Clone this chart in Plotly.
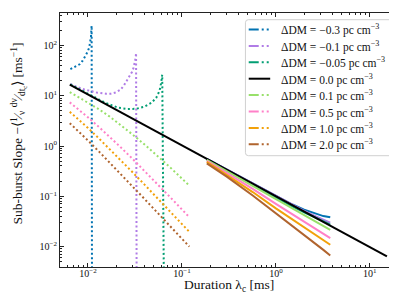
import plotly.graph_objects as go

# ---------------- data ----------------
labels = ["ΔDM = −0.3 pc cm<sup>−3</sup>", "ΔDM = −0.1 pc cm<sup>−3</sup>",
          "ΔDM = −0.05 pc cm<sup>−3</sup>", "ΔDM = 0.0 pc cm<sup>−3</sup>",
          "ΔDM = 0.1 pc cm<sup>−3</sup>", "ΔDM = 0.5 pc cm<sup>−3</sup>",
          "ΔDM = 1.0 pc cm<sup>−3</sup>", "ΔDM = 2.0 pc cm<sup>−3</sup>"]
colors = ["#0173B2", "#B07CE6", "#029E73", "#000000",
          "#98E06A", "#FF80C8", "#F2A10A", "#B0642E"]

# ΔDM = 0 reference line
black_x = [0.0064, 0.1, 1.0, 15.2]
black_y = [16.7, 1.027, 0.0993, 0.0063]

# short-duration (dotted) curves
blue_dx = [0.0065, 0.0074, 0.00816, 0.00879, 0.00936, 0.00993, 0.01033, 0.01057, 0.01076, 0.01086, 0.01094, 0.0111]
blue_dy = [34.0, 38.7, 42.4, 50.0, 60.0, 75.7, 92.5, 116.0, 148.0, 200.0, 249.0, 1e-6]
purple_dx = [0.0065, 0.0076, 0.009, 0.0107, 0.0126, 0.0155, 0.0175, 0.0198, 0.0222, 0.0241, 0.0258,
             0.0277, 0.0294, 0.0306, 0.0316, 0.0322, 0.0325, 0.0333]
purple_dy = [17.2, 15.0, 13.5, 12.5, 11.5, 11.0, 11.0, 11.7, 13.2, 16.0, 19.5,
             24.0, 29.8, 36.3, 47.0, 57.0, 71.0, 1e-6]
teal_dx = [0.0065, 0.008, 0.01, 0.012, 0.0133, 0.015, 0.018, 0.0209, 0.0266, 0.0326, 0.0398,
           0.0471, 0.0532, 0.0578, 0.0601, 0.0617, 0.0664]
teal_dy = [16.8, 13.6, 10.9, 9.1, 8.2, 7.4, 6.45, 5.8, 5.45, 5.5, 6.07,
           7.2, 9.04, 12.6, 18.0, 26.3, 1e-6]
pos_dx = [0.0064, 0.008, 0.01, 0.013, 0.017, 0.022, 0.03, 0.04, 0.055, 0.075, 0.1, 0.12]
lime_dy = [11.8, 9.3, 7.4, 5.45, 3.86, 2.67, 1.68, 1.07, 0.636, 0.374, 0.225, 0.162]
pink_dy = [7.4, 5.3, 3.72, 2.42, 1.53, 0.967, 0.548, 0.32, 0.174, 0.0956, 0.0545, 0.0381]
orange_dy = [4.8, 3.35, 2.28, 1.43, 0.873, 0.537, 0.297, 0.17, 0.0913, 0.0495, 0.028, 0.0195]
brown_dy = [2.85, 1.95, 1.29, 0.787, 0.470, 0.285, 0.155, 0.088, 0.0468, 0.0252, 0.0142, 0.0099]

# long-duration (solid) curves
sol_x = [0.184, 0.3, 0.567, 1.0, 1.5, 2.0, 2.7, 3.2, 3.79]
blue_s = [0.5534, 0.3373, 0.1766, 0.0993, 0.0683, 0.0539, 0.0440, 0.0402, 0.0380]
purple_s = [0.5534, 0.3373, 0.1766, 0.0993, 0.0668, 0.0510, 0.0390, 0.0341, 0.0298]
teal_s = [0.541, 0.327, 0.169, 0.094, 0.0629, 0.0479, 0.0363, 0.0314, 0.0272]
lime_s = [0.529, 0.315, 0.160, 0.0865, 0.0566, 0.0417, 0.0305, 0.0255, 0.0214]
pink_s = [0.505, 0.290, 0.140, 0.0704, 0.0440, 0.0311, 0.0219, 0.01785, 0.0146]
orange_s = [0.482, 0.268, 0.121, 0.0573, 0.0347, 0.0242, 0.0166, 0.01336, 0.0108]
brown_s = [0.450, 0.245, 0.103, 0.0455, 0.0263, 0.0171, 0.0110, 0.00852, 0.0066]

x_tickvals = [0.01, 0.1, 1, 10]
x_ticktext = ["10<sup>−2</sup>", "10<sup>−1</sup>", "10<sup>0</sup>", "10<sup>1</sup>"]
y_tickvals = [0.01, 0.1, 1, 10, 100]
y_ticktext = ["10<sup>−2</sup>", "10<sup>−1</sup>", "10<sup>0</sup>", "10<sup>1</sup>", "10<sup>2</sup>"]
x_title = "Duration λ<sub>c</sub> [ms]"
y_title = "Sub-burst Slope −⟨<sup>1</sup>⁄<sub>ν</sub> <sup>dν</sup>⁄<sub>dt<sub>c</sub></sub>⟩ [ms<sup>−1</sup>]"

# ---------------- figure ----------------
FONT = "Liberation Serif, Times New Roman, serif"
W, H = 397, 296
L, R, T, B = 52, 390.5, 5, 259

fig = go.Figure()
dot = "2px,2.5px"

dotted = [(blue_dx, blue_dy, 0), (purple_dx, purple_dy, 1), (teal_dx, teal_dy, 2),
          (pos_dx, lime_dy, 4), (pos_dx, pink_dy, 5), (pos_dx, orange_dy, 6), (pos_dx, brown_dy, 7)]
solid = {0: blue_s, 1: purple_s, 2: teal_s, 4: lime_s, 5: pink_s, 6: orange_s, 7: brown_s}
dmap = {d[2]: d for d in dotted}

for i in range(8):
    if i == 3:
        fig.add_trace(go.Scatter(x=black_x, y=black_y, mode="lines",
                                 line=dict(color=colors[i], width=2), showlegend=False,
                                 hoverinfo="skip"))
        continue
    dx, dy, _ = dmap[i]
    fig.add_trace(go.Scatter(x=dx, y=dy, mode="lines",
                             line=dict(color=colors[i], width=2, dash=dot),
                             showlegend=False, hoverinfo="skip"))
    fig.add_trace(go.Scatter(x=sol_x, y=solid[i], mode="lines",
                             line=dict(color=colors[i], width=2),
                             showlegend=False, hoverinfo="skip"))

minor_x = [m * 10 ** e for e in range(-3, 2) for m in range(2, 10)]
minor_y = [m * 10 ** e for e in range(-3, 3) for m in range(2, 10)]

axis_common = dict(type="log", showgrid=False, zeroline=False, showline=True,
                   linecolor="#222", linewidth=1, mirror="allticks",
                   ticks="inside", ticklen=4, tickwidth=0.8, tickcolor="#222",
                   tickfont=dict(family=FONT, size=10, color="#111"))

fig.update_xaxes(**axis_common, range=[-2.2976, 1.2997],
                 tickvals=x_tickvals, ticktext=x_ticktext, ticklabelstandoff=-3,
                 minor=dict(tickvals=minor_x, ticks="inside", ticklen=2, tickwidth=0.6, tickcolor="#222"))
fig.update_yaxes(**axis_common, range=[-2.41, 2.649],
                 tickvals=y_tickvals, ticktext=y_ticktext,
                 minor=dict(tickvals=minor_y, ticks="inside", ticklen=2, tickwidth=0.6, tickcolor="#222"))

# ---------------- custom legend / titles (layout decoration) ----------------
def px_x(p):
    return (p - L) / (R - L)

def px_y(p):
    return (B - p) / (B - T)

bx0, bx1, by0, by1, rr = 237.7, 385.0, 11.7, 147.7, 3.0
path = (f"M {px_x(bx0 + rr)},{px_y(by0)} L {px_x(bx1 - rr)},{px_y(by0)} "
        f"Q {px_x(bx1)},{px_y(by0)} {px_x(bx1)},{px_y(by0 + rr)} "
        f"L {px_x(bx1)},{px_y(by1 - rr)} Q {px_x(bx1)},{px_y(by1)} {px_x(bx1 - rr)},{px_y(by1)} "
        f"L {px_x(bx0 + rr)},{px_y(by1)} Q {px_x(bx0)},{px_y(by1)} {px_x(bx0)},{px_y(by1 - rr)} "
        f"L {px_x(bx0)},{px_y(by0 + rr)} Q {px_x(bx0)},{px_y(by0)} {px_x(bx0 + rr)},{px_y(by0)} Z")
shapes = [dict(type="path", xref="paper", yref="paper", path=path,
               line=dict(color="#d0d0d0", width=1), fillcolor="rgba(255,255,255,0.85)", layer="above")]
annotations = []
for i in range(8):
    yc = 21.5 + 16.4 * i
    shapes.append(dict(type="line", xref="paper", yref="paper",
                       x0=px_x(241), x1=px_x(262.5), y0=px_y(yc), y1=px_y(yc),
                       line=dict(color=colors[i], width=2,
                                 dash="solid" if i == 3 else "10px,3px,2px,3px,2px,20px"),
                       layer="above"))
    annotations.append(dict(xref="paper", yref="paper", x=px_x(271), y=px_y(yc + 0.5),
                            xanchor="left", yanchor="middle", showarrow=False,
                            text=labels[i], font=dict(family=FONT, size=11.5, color="#111")))

annotations.append(dict(xref="paper", yref="paper", x=px_x(221), y=px_y(277.5),
                        xanchor="center", yanchor="middle", showarrow=False,
                        text=x_title, font=dict(family=FONT, size=13.5, color="#111")))
annotations.append(dict(xref="paper", yref="paper", x=px_x(9.5), y=px_y(126),
                        xanchor="center", yanchor="middle", showarrow=False, textangle=-90,
                        text=y_title, font=dict(family=FONT, size=13.5, color="#111")))

fig.update_layout(width=W, height=H, margin=dict(l=L, r=W - R, t=T, b=H - B),
                  paper_bgcolor="white", plot_bgcolor="white",
                  shapes=shapes, annotations=annotations, showlegend=False)

fig.write_html("out.html")
